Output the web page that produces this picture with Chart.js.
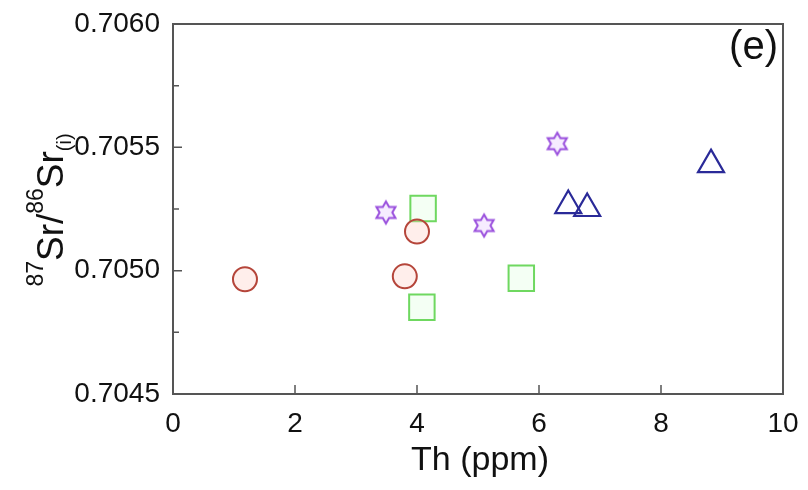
<!DOCTYPE html>
<html><head><meta charset="utf-8">
<script src="https://cdn.jsdelivr.net/npm/chart.js@4.4.1/dist/chart.umd.min.js"></script>
<style>html,body{margin:0;padding:0;background:#fff}#wrap{width:808px;height:490px}</style>
</head><body><div id="wrap"><canvas id="c" width="808" height="490"></canvas></div>
<script>
// Data
const circleTh = [1.18, 3.8, 4.0];
const circleSr = [0.704965, 0.704977, 0.705159];
const squareTh = [4.10, 4.08, 5.71];
const squareSr = [0.705252, 0.704852, 0.704969];
const starTh = [3.49, 5.1, 6.3];
const starSr = [0.705236, 0.705183, 0.705515];
const triTh = [6.48, 6.79, 8.82];
const triSr = [0.705264, 0.705252, 0.70543];
const xTicks = [0, 2, 4, 6, 8, 10];
const yTicks = [0.7045, 0.7050, 0.7055, 0.7060];
const yMinor = [0.70475, 0.70525, 0.70575];
const panelLabel = '(e)';
const xTitle = 'Th (ppm)';

const FONT = '"Liberation Sans", Arial, sans-serif';
const pts = (xs, ys) => xs.map((x, i) => ({x, y: ys[i]}));

// hexagram marker
function hexagram(color) {
  const c = document.createElement('canvas');
  c.width = 28; c.height = 28;
  const g = c.getContext('2d');
  const R = 11, r = R / Math.sqrt(3), cx = 14, cy = 14;
  g.beginPath();
  for (let i = 0; i < 12; i++) {
    const a = -Math.PI / 2 + i * Math.PI / 6;
    const rr = i % 2 === 0 ? R : r;
    const px = cx + rr * Math.cos(a), py = cy + rr * Math.sin(a);
    i === 0 ? g.moveTo(px, py) : g.lineTo(px, py);
  }
  g.closePath();
  g.fillStyle = 'rgba(230,200,255,0.35)';
  g.fill();
  g.strokeStyle = color; g.lineWidth = 2; g.stroke();
  return c;
}

const frame = {
  id: 'frame',
  afterDraw(chart) {
    const {ctx, chartArea: a, scales: {x, y}} = chart;
    ctx.save();
    ctx.strokeStyle = '#555'; ctx.lineWidth = 2;
    ctx.strokeRect(a.left, a.top, a.right - a.left, a.bottom - a.top);
    ctx.lineWidth = 1.5;
    ctx.beginPath();
    xTicks.forEach(v => { const px = x.getPixelForValue(v); if (px > a.left + 2 && px < a.right - 2) { ctx.moveTo(px, a.bottom); ctx.lineTo(px, a.bottom - 9); } });
    yTicks.forEach(v => { const py = y.getPixelForValue(v); if (py > a.top + 2 && py < a.bottom - 2) { ctx.moveTo(a.left, py); ctx.lineTo(a.left + 9, py); } });
    yMinor.forEach(v => { const py = y.getPixelForValue(v); ctx.moveTo(a.left, py); ctx.lineTo(a.left + 6, py); });
    ctx.stroke();
    // panel label
    ctx.fillStyle = '#111';
    ctx.font = '40px ' + FONT;
    ctx.textAlign = 'right'; ctx.textBaseline = 'alphabetic';
    ctx.fillText(panelLabel, a.right - 5, 59);
    // x title
    ctx.font = '34px ' + FONT;
    ctx.textAlign = 'center';
    ctx.fillText(xTitle, (a.left + a.right) / 2 + 2, 470);
    // y title with superscripts
    ctx.translate(63, 210);
    ctx.rotate(-Math.PI / 2);
    const parts = [
      {t: '87', f: '23px', dy: -20},
      {t: 'Sr/', f: '37px', dy: 0},
      {t: '86', f: '23px', dy: -20},
      {t: 'Sr', f: '37px', dy: 0},
      {t: '(i)', f: '20px', dy: 8}
    ];
    let w = 0;
    parts.forEach(p => { ctx.font = p.f + ' ' + FONT; p.w = ctx.measureText(p.t).width; w += p.w; });
    let cx = -w / 2;
    ctx.textAlign = 'left'; ctx.textBaseline = 'alphabetic';
    parts.forEach(p => { ctx.font = p.f + ' ' + FONT; ctx.fillText(p.t, cx, p.dy); cx += p.w; });
    ctx.restore();
  }
};

new Chart(document.getElementById('c'), {
  type: 'scatter',
  data: {
    datasets: [
      {data: pts(circleTh, circleSr), pointStyle: 'circle', pointRadius: 12, borderColor: '#b5453a', backgroundColor: 'rgba(255,200,190,0.3)', borderWidth: 2},
      {data: pts(squareTh, squareSr), pointStyle: 'rect', pointRadius: 18, borderColor: '#6fd860', backgroundColor: 'rgba(220,255,220,0.3)', borderWidth: 2},
      {data: pts(starTh, starSr), pointStyle: hexagram('#9a50dd'), pointRadius: 12, borderColor: '#9a50dd', backgroundColor: 'transparent'},
      {data: pts(triTh, triSr), pointStyle: 'triangle', pointRadius: 15, borderColor: '#2a2a98', backgroundColor: 'rgba(255,255,255,0)', borderWidth: 2.2}
    ]
  },
  options: {
    responsive: false, animation: false,
    layout: {padding: {top: 24, right: 25, left: 0, bottom: 0}},
    plugins: {legend: {display: false}, tooltip: {enabled: false}},
    scales: {
      x: {
        type: 'linear', min: 0, max: 10,
        afterBuildTicks: s => { s.ticks = xTicks.map(v => ({value: v})); },
        afterFit: s => { s.height = 96; s.paddingLeft = 0; s.paddingRight = 0; s.paddingTop = 0; s.paddingBottom = 0; },
        grid: {display: false, drawTicks: false},
        border: {display: false},
        ticks: {padding: 13, color: '#111', font: {family: FONT, size: 28}, maxRotation: 0}
      },
      y: {
        type: 'linear', min: 0.7045, max: 0.7060,
        afterBuildTicks: s => { s.ticks = yTicks.map(v => ({value: v})); },
        afterFit: s => { s.width = 173; s.paddingLeft = 0; s.paddingRight = 0; s.paddingTop = 0; s.paddingBottom = 0; },
        grid: {display: false, drawTicks: false},
        border: {display: false},
        ticks: {padding: 13, color: '#111', font: {family: FONT, size: 28}, callback: v => Number(v).toFixed(4)}
      }
    }
  },
  plugins: [frame]
});
</script>
</body></html>
